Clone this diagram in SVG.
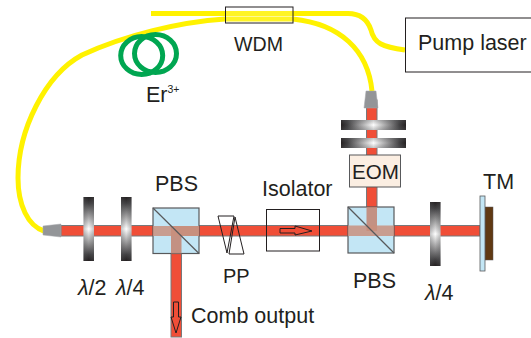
<svg xmlns="http://www.w3.org/2000/svg" width="531" height="338" viewBox="0 0 531 338">
<style>
text{font-family:"Liberation Sans",Arial,sans-serif;font-size:21.5px;fill:#231f20}
.fib{fill:none;stroke:#fff200;stroke-width:5}
.beam{fill:#f04e37;stroke:#77787b;stroke-width:1}
.vp{fill:url(#gv)}
.hp{fill:url(#gh)}
.vo{fill:url(#ov)}
.ho{fill:url(#oh)}
.pbs{fill:#c3e6f5;stroke:#58595b;stroke-width:1.2}
.lens{fill:#939598;stroke:#a7a9ac;stroke-width:.5}
.ol{fill:none;stroke:#231f20;stroke-width:1}
</style>
<defs>
<linearGradient id="gv" x1="0" y1="0" x2="0" y2="1"><stop offset="0" stop-color="#231f20"/><stop offset=".1" stop-color="#414042"/><stop offset=".5" stop-color="#fff"/><stop offset=".9" stop-color="#414042"/><stop offset="1" stop-color="#231f20"/></linearGradient>
<linearGradient id="gh" x1="0" y1="0" x2="1" y2="0"><stop offset="0" stop-color="#231f20"/><stop offset=".1" stop-color="#414042"/><stop offset=".5" stop-color="#fff"/><stop offset=".9" stop-color="#414042"/><stop offset="1" stop-color="#231f20"/></linearGradient>
<linearGradient id="ov" x1="0" y1="0" x2="1" y2="0"><stop offset="0" stop-color="#58595b" stop-opacity=".35"/><stop offset=".5" stop-color="#58595b" stop-opacity="0"/><stop offset="1" stop-color="#58595b" stop-opacity=".35"/></linearGradient>
<linearGradient id="oh" x1="0" y1="0" x2="0" y2="1"><stop offset="0" stop-color="#58595b" stop-opacity=".35"/><stop offset=".5" stop-color="#58595b" stop-opacity="0"/><stop offset="1" stop-color="#58595b" stop-opacity=".35"/></linearGradient>
</defs>
<g id="connectors">
<path class="fib" d="M151 13.500H348C362 13.500 368 21 371 30C374 43 382 47 405 50"/>
<path class="fib" d="M293 19C340 24 368 50 372 91"/>
<path class="fib" d="M44 231C28 226 18 205 18 178C18 130 45 75 82 55C125 35 180 22 225 19H293"/>
<rect class="beam" x="61" y="225.500" width="419" height="10.500"/>
<rect class="beam" x="171" y="231" width="10.500" height="106"/>
<rect class="beam" x="366.500" y="100" width="10.500" height="131"/>
</g>
<g id="wdm"><rect x="225.500" y="7" width="67.500" height="16" fill="#fff" fill-opacity=".15" stroke="#231f20"/><text x="234" y="51" style="font-size:19.600px">WDM</text></g>
<g id="erbium"><ellipse cx="141.700" cy="55.500" rx="21" ry="19" fill="none" stroke="#00a651" stroke-width="5"/><ellipse cx="155.500" cy="53.500" rx="21" ry="19" fill="none" stroke="#00a651" stroke-width="5"/><text x="146" y="102">Er<tspan style="font-size:10.500px" dy="-9">3+</tspan></text></g>
<g id="pump"><rect x="405.500" y="18" width="126" height="54" fill="#fff" stroke="#231f20"/><text x="418" y="50">Pump laser</text></g>
<g id="coll-left"><polygon class="lens" points="43,226 61,224 61,237 43,235"/></g>
<g id="coll-top"><polygon class="lens" points="366,91 376,91 378,108 364,108"/></g>
<g id="hwp"><rect class="vp" x="83.500" y="197" width="10.500" height="64"/><rect class="vo" x="83.500" y="197" width="10.500" height="64"/><text x="78" y="295" font-style="italic">λ<tspan font-style="normal">/2</tspan></text></g>
<g id="qwp1"><rect class="vp" x="121" y="197" width="10.500" height="64"/><rect class="vo" x="121" y="197" width="10.500" height="64"/><text x="116" y="295" font-style="italic">λ<tspan font-style="normal">/4</tspan></text></g>
<g id="pbs1"><rect class="pbs" x="153" y="208" width="46" height="45.500"/><path d="M171 226H199V236H181.500V253.500H171Z" fill="#c3816f" fill-opacity=".85"/><rect x="153" y="226" width="46" height="10" fill="#c98f7e" fill-opacity=".85"/><path d="M153 208L199 253.500" stroke="#58595b" stroke-width="1.200"/><text x="155" y="191">PBS</text></g>
<g id="pp"><polygon class="ol" points="218,216 234,216 227,253"/><polygon class="ol" points="235,217 244,254 229,254"/><text x="223" y="283" style="font-size:20px">PP</text></g>
<g id="isolator"><rect class="ol" x="266.500" y="209.500" width="53" height="41.500"/><polygon class="ol" points="280,228.500 295,228.500 295,226 312,231 295,235 295,233 280,233"/><text x="262" y="196">Isolator</text></g>
<g id="pbs2"><rect class="pbs" x="348" y="207" width="46" height="46"/><rect x="366.500" y="207" width="10.500" height="24" fill="#c3816f" fill-opacity=".85"/><rect x="348" y="225.500" width="46" height="10.500" fill="#c98f7e" fill-opacity=".85"/><path d="M348 207L394 253" stroke="#58595b" stroke-width="1.200"/><text x="353" y="288">PBS</text></g>
<g id="eom"><rect x="349.500" y="155" width="51" height="32" fill="#fbeee2" stroke="#58595b"/><text x="352" y="179" style="font-size:20.600px">EOM</text></g>
<g id="plate-a"><rect class="hp" x="341" y="120" width="65" height="10"/><rect class="ho" x="341" y="120" width="65" height="10"/></g>
<g id="plate-b"><rect class="hp" x="341" y="138" width="65" height="10"/><rect class="ho" x="341" y="138" width="65" height="10"/></g>
<g id="qwp2"><rect class="vp" x="430" y="202" width="10.500" height="64"/><rect class="vo" x="430" y="202" width="10.500" height="64"/><text x="425" y="300" font-style="italic">λ<tspan font-style="normal">/4</tspan></text></g>
<g id="tm"><rect x="485" y="207" width="8" height="53" fill="#603913" stroke="#58595b" stroke-width=".5"/><rect x="480" y="196" width="5" height="75" fill="#c3e6f5" stroke="#58595b" stroke-width=".8"/><text x="483" y="189">TM</text></g>
<g id="comb"><polygon class="ol" points="173.500,302 178.500,302 178.500,317 181,317 176,333 171,317 173.500,317"/><text x="191" y="323">Comb output</text></g>
</svg>
